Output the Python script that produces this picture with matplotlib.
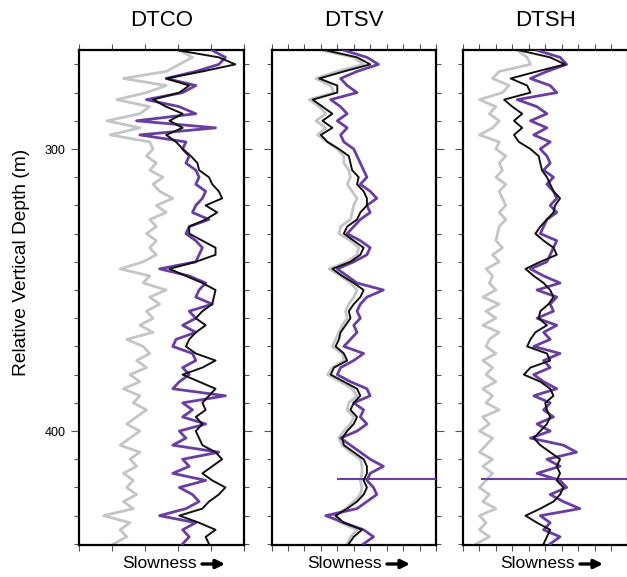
import numpy as np
import matplotlib
matplotlib.use('Agg')
import matplotlib.pyplot as plt

plt.rcParams['font.family'] = ['Liberation Sans', 'DejaVu Sans']

# sample depths (m), one value every 2.5 m
depth = np.arange(265.0, 440.1, 2.5)

# DTCO panel (slowness, relative 0-10 units across the track)
dtco_gray = [6.1, 6.9, 6.1, 5.3, 2.7, 5.3, 4.1, 2.3, 4.3, 3.7, 1.7, 3.7, 1.9, 4.3, 4.5, 4.1, 4.7, 4.3, 5.1,
             4.5, 4.9, 5.7, 4.7, 5.3, 4.3, 4.7, 4.1, 4.7, 4.3, 4.7, 3.9, 2.5, 4.3, 3.9, 5.3, 4.3, 4.9,
             4.1, 4.5, 3.7, 4.5, 2.9, 3.9, 4.3, 3.5, 4.1, 3.1, 3.7, 2.7, 3.7, 3.3, 4.1, 3.5, 2.9, 3.7,
             3.1, 2.5, 3.7, 3.1, 3.5, 2.7, 3.3, 2.9, 3.5, 2.7, 3.3, 1.5, 3.1, 2.5, 2.9, 2.1]
dtco_purple = [8.1, 8.9, 8.5, 7.1, 5.3, 7.1, 6.3, 4.1, 6.1, 7.1, 3.5, 8.3, 3.7, 6.5, 6.3, 6.7, 6.5, 7.1, 7.3,
               7.1, 7.7, 7.5, 7.1, 6.9, 7.9, 6.7, 6.5, 7.1, 7.5, 7.3, 7.1, 4.9, 6.7, 7.7, 7.3, 7.1, 8.1,
               6.7, 7.1, 6.3, 7.1, 5.9, 5.7, 6.9, 7.1, 6.3, 6.7, 6.1, 5.7, 8.9, 6.3, 6.9, 6.3, 7.7, 6.1,
               6.5, 5.7, 8.5, 6.3, 6.7, 5.7, 7.7, 6.1, 6.9, 7.3, 6.5, 4.9, 7.1, 6.3, 6.7, 6.3]
dtco_black = [6.0, 8.5, 9.5, 7.5, 5.3, 6.7, 6.1, 4.5, 5.3, 6.3, 5.5, 6.3, 5.3, 5.9, 6.3, 6.8, 7.2, 7.3, 7.9,
              8.1, 8.5, 8.7, 7.7, 8.4, 7.7, 6.7, 6.7, 7.5, 8.3, 8.3, 7.1, 5.5, 6.5, 7.5, 8.3, 8.2, 8.1,
              7.5, 7.1, 7.7, 7.1, 6.7, 6.5, 7.1, 8.3, 7.5, 6.3, 7.3, 8.3, 7.9, 7.5, 7.7, 7.1, 7.5, 7.1,
              7.3, 7.5, 8.3, 8.7, 8.1, 7.5, 8.1, 8.9, 8.5, 7.9, 7.5, 6.1, 7.3, 8.3, 7.7, 7.9]

# DTSV panel
dtsv_gray = [3.1, 5.0, 5.6, 4.0, 2.7, 3.6, 3.8, 2.3, 2.9, 3.3, 2.7, 3.3, 2.8, 3.4, 4.0, 4.4, 4.4, 4.7, 4.8,
             4.6, 4.9, 5.2, 5.0, 4.9, 4.8, 4.2, 4.1, 4.8, 5.3, 5.2, 4.6, 3.5, 4.2, 4.8, 5.2, 5.0, 4.7,
             4.5, 4.6, 4.3, 4.1, 3.9, 3.7, 4.3, 4.4, 3.7, 3.4, 4.2, 4.9, 5.2, 4.7, 4.6, 5.0, 4.8, 4.4,
             4.1, 4.3, 4.8, 5.4, 5.5, 5.5, 5.4, 5.5, 5.4, 5.0, 4.5, 3.8, 4.2, 5.2, 4.8, 4.6]
dtsv_purple = [4.4, 5.8, 6.5, 5.2, 4.2, 4.6, 5.2, 3.6, 4.2, 4.6, 4.0, 4.6, 4.2, 4.4, 5.0, 5.2, 5.4, 5.6, 5.8,
               5.4, 6.0, 6.4, 5.8, 6.0, 5.4, 5.0, 4.6, 5.4, 6.0, 5.8, 5.0, 4.0, 4.6, 5.2, 6.8, 5.8, 5.4,
               5.2, 5.4, 5.0, 5.2, 4.8, 4.4, 5.6, 5.0, 4.2, 4.0, 4.8, 5.8, 6.0, 5.0, 5.6, 5.4, 5.8, 5.2,
               4.2, 4.8, 5.4, 6.0, 6.8, 6.0, 5.8, 6.2, 6.4, 5.8, 5.2, 3.3, 4.4, 5.6, 6.2, 5.6]
dtsv_black = [3.3, 5.2, 6.0, 4.4, 2.9, 4.0, 4.0, 2.5, 3.1, 3.7, 3.1, 3.7, 3.0, 3.4, 4.1, 4.7, 4.8, 4.9, 5.3,
              5.2, 5.6, 5.8, 5.8, 5.4, 5.2, 4.6, 4.4, 5.0, 5.6, 5.4, 4.8, 3.7, 4.3, 5.0, 5.6, 5.4, 5.0,
              4.7, 4.8, 4.5, 4.2, 4.1, 3.9, 4.4, 4.6, 3.8, 3.6, 4.4, 5.2, 5.4, 5.0, 4.8, 5.2, 5.0, 4.6,
              4.3, 4.4, 5.0, 5.6, 5.8, 5.8, 5.6, 5.8, 5.6, 5.2, 4.6, 3.9, 4.4, 5.5, 5.0, 4.7]

# DTSH panel
dtsh_gray = [3.3, 3.9, 4.1, 2.2, 1.8, 2.8, 2.4, 1.0, 2.0, 1.6, 2.2, 1.8, 1.0, 2.2, 2.0, 2.6, 2.2, 2.4, 2.0,
             2.6, 2.2, 2.4, 2.6, 2.2, 2.6, 2.2, 2.1, 2.0, 2.4, 1.8, 2.2, 1.4, 1.8, 1.6, 2.0, 1.2, 2.2,
             1.4, 2.0, 1.2, 2.2, 1.6, 1.4, 2.0, 1.2, 1.8, 1.4, 2.0, 1.2, 1.8, 1.4, 2.2, 1.2, 1.6, 1.0,
             1.8, 1.4, 1.0, 1.8, 1.2, 1.8, 1.4, 1.0, 1.6, 1.2, 2.0, 1.0, 1.4, 1.0, 1.6, 0.8]
dtsh_purple = [4.5, 5.9, 6.3, 5.1, 4.1, 5.3, 5.7, 3.3, 4.5, 5.1, 4.1, 5.1, 4.3, 5.3, 4.7, 5.1, 5.3, 4.9, 5.5,
               5.1, 5.5, 5.7, 5.3, 5.7, 5.1, 4.9, 4.7, 5.7, 5.5, 5.3, 5.1, 4.1, 4.9, 5.9, 4.5, 5.7, 5.3,
               5.5, 4.5, 5.7, 4.9, 5.3, 4.3, 5.9, 4.9, 5.3, 4.3, 4.9, 5.7, 4.3, 5.3, 4.9, 5.5, 4.5, 5.3,
               4.1, 6.1, 6.9, 5.1, 5.9, 4.5, 5.9, 6.3, 5.3, 6.1, 7.1, 4.7, 5.3, 4.9, 5.9, 5.3]
dtsh_black = [3.4, 5.3, 6.2, 4.5, 2.9, 3.9, 4.1, 2.5, 3.0, 3.6, 3.1, 3.6, 3.1, 3.4, 4.1, 4.6, 4.7, 4.8, 5.1,
              5.3, 5.5, 5.9, 5.6, 5.5, 5.1, 4.7, 4.4, 4.9, 5.5, 5.7, 4.7, 3.8, 4.3, 4.9, 5.3, 5.5, 5.2,
              4.7, 4.6, 5.1, 4.4, 4.1, 3.9, 5.1, 5.3, 4.1, 3.7, 4.7, 5.3, 5.5, 5.0, 5.1, 5.3, 5.1, 4.7,
              4.3, 4.7, 5.3, 5.9, 5.7, 5.9, 5.7, 6.1, 5.9, 5.5, 4.7, 3.8, 4.5, 5.3, 5.1, 4.9]

# single-sample spikes in the purple logs (depth, left end, right end)
spike_depth = [None, 416.9, 416.9]
spike_left = [None, 4.0, 1.1]
spike_right = [None, 10.0, 10.0]

titles = ['DTCO', 'DTSV', 'DTSH']
gray_logs = [dtco_gray, dtsv_gray, dtsh_gray]
purple_logs = [dtco_purple, dtsv_purple, dtsh_purple]
black_logs = [dtco_black, dtsv_black, dtsh_black]

W, H = 627, 577
panel_left = [79, 271.5, 463]
label_left = [122, 307, 500]
panel_w = 164.5
panel_top, panel_bot = 50, 545

GRAY = '#c4c5c8'
PURPLE = '#6a3ea1'

if __name__ == '__main__':
    fig = plt.figure(figsize=(W / 100, H / 100), dpi=100)

    for i in range(3):
        ax = fig.add_axes([panel_left[i] / W, 1 - panel_bot / H, panel_w / W, (panel_bot - panel_top) / H])
        ax.plot(gray_logs[i], depth, color=GRAY, lw=2.0, zorder=2, solid_joinstyle='round')
        ax.plot(purple_logs[i], depth, color=PURPLE, lw=2.0, zorder=3, solid_joinstyle='round')
        if spike_depth[i] is not None:
            ax.hlines(spike_depth[i], spike_left[i], spike_right[i], color=PURPLE, lw=1.5, zorder=3)
        ax.plot(black_logs[i], depth, color='#111111', lw=1.4, zorder=4, solid_joinstyle='round')

        ax.set_xlim(0, 10)
        ax.set_ylim(440.4, 264.9)
        for s in ax.spines.values():
            s.set_linewidth(1.6)

        if i == 0:
            ax.set_xticks(np.arange(0, 10.1, 2))
        else:
            ax.set_xticks(np.arange(0, 10.1, 1))
        ax.set_yticks([300, 400])
        ax.set_yticks(np.arange(270, 441, 10), minor=True)
        ax.tick_params(axis='x', which='both', top=True, bottom=True, labelbottom=False,
                       direction='out', length=4, width=0.8, color='#555555')
        ax.tick_params(axis='y', which='major', left=True, right=True, direction='out',
                       length=6, width=0.8, color='#555555', labelsize=9, pad=3.5)
        ax.tick_params(axis='y', which='minor', left=True, right=True, direction='out',
                       length=3.5, width=0.8, color='#555555')
        if i > 0:
            ax.tick_params(axis='y', labelleft=False)

        cx = (panel_left[i] + panel_w / 2) / W
        fig.text(cx, 1 - 21 / H, titles[i], ha='center', va='center', fontsize=16)
        ty = 1 - 564 / H
        fig.text(label_left[i] / W, ty, 'Slowness', ha='left', va='center', fontsize=12.5)
        ax.annotate('', xy=((label_left[i] + 103) / W, ty), xytext=((label_left[i] + 80) / W, ty),
                    xycoords='figure fraction', textcoords='figure fraction',
                    arrowprops=dict(arrowstyle='-|>', lw=2.4, color='black', mutation_scale=13,
                                    shrinkA=0, shrinkB=0))

    fig.text(22 / W, 1 - 262 / H, 'Relative Vertical Depth (m)', rotation=90,
             ha='center', va='center', fontsize=13.8)

    plt.savefig('out.png', dpi=100)
    plt.close()
